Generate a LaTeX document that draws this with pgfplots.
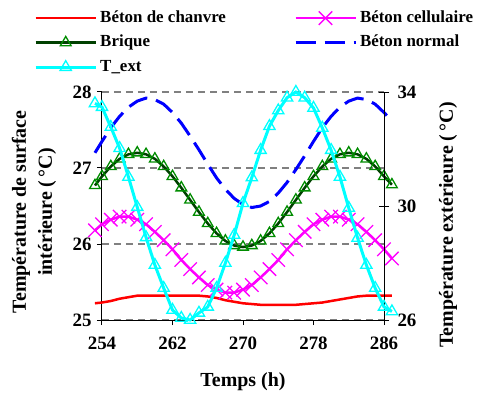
\documentclass[border=0pt]{standalone}
\usepackage{fontspec}
\setmainfont{Liberation Serif}
\usepackage{pgfplots}
\pgfplotsset{compat=1.18}
\definecolor{dkgreen}{RGB}{0,64,0}
\definecolor{mkgreen}{RGB}{0,140,0}
\definecolor{mycyan}{RGB}{0,255,255}
\definecolor{mymag}{RGB}{255,0,255}
\begin{document}
\begin{tikzpicture}
\useasboundingbox (-102bp,-76bp) rectangle (379bp,320bp);
\pgfplotsset{every axis/.append style={
  scale only axis, width=282bp, height=228bp,
  xmin=254, xmax=286, clip=false,
  at={(0,0)}, anchor=south west,
  /pgf/number format/assume math mode=true,
  ticklabel style={font=\fontsize{19}{19}\selectfont\bfseries},
  axis line style={line width=1bp,-},
  tick style={black,line width=1bp},
  label style={font=\fontsize{20}{26}\selectfont\bfseries},
}}
\begin{axis}[
  axis x line*=bottom, axis y line*=left,
  xtick={254,262,270,278,286},
  xticklabel style={yshift=-8bp},
  yticklabel style={xshift=-2bp},
  ymin=25, ymax=28, ytick={25,26,27,28},
  ymajorgrids, grid style={gray,line width=1.2bp,dash pattern=on 7bp off 5bp},
  tick align=outside, major tick length=5bp,
  xlabel={Temps (h)},
  xlabel style={at={(axis description cs:0.5,-0.272)},anchor=center},
  ylabel={Température de surface\\intérieure (\,°C)},
  ylabel style={at={(axis description cs:-0.241,0.474)},anchor=center,align=center},
  legend columns=2,
  legend cell align=left,
  legend style={at={(axis description cs:-0.241,1.36)},anchor=north west,
    draw=none,fill=none,inner sep=0pt,
    font=\fontsize{17}{17}\selectfont\bfseries,
    row sep=8.5bp,
    nodes={inner sep=0pt,text height=12bp,text depth=4bp},
    /tikz/every even column/.append style={column sep=68bp},
    /tikz/every odd column/.append style={column sep=3bp}},
  legend image code/.code={\draw[mark repeat=2,mark phase=2,#1] plot coordinates {(0bp,0bp)(30bp,0bp)(60bp,0bp)};},
]
% Beton de chanvre
\addplot[red,line width=2.5bp,no marks] coordinates {
(253.2,25.22)(254,25.23)(255,25.25)(256,25.28)(257,25.30)(258,25.32)(259,25.32)(260,25.32)
(261,25.32)(262,25.32)(263,25.32)(264,25.32)(265,25.32)(266,25.31)(267,25.29)(268,25.26)
(269,25.24)(270,25.22)(271,25.21)(272,25.20)(273,25.20)(274,25.20)(275,25.20)(276,25.20)
(277,25.21)(278,25.22)(279,25.23)(280,25.25)(281,25.27)(282,25.29)(283,25.31)(284,25.32)
(285,25.32)(286,25.32)(286.9,25.32)};
\addlegendentry{Béton de chanvre}
% Beton cellulaire
\addplot[mymag,line width=2.5bp,mark=x,mark size=9.5bp,mark options={line width=1.3bp,solid}] coordinates {
(253.2,26.18)(254,26.26)(255,26.32)(256,26.36)(257,26.36)(258,26.32)(259,26.26)(260,26.16)
(261,26.05)(262,25.93)(263,25.79)(264,25.67)(265,25.56)(266,25.46)(267,25.40)(268,25.36)
(269,25.36)(270,25.40)(271,25.46)(272,25.56)(273,25.67)(274,25.79)(275,25.93)(276,26.05)
(277,26.16)(278,26.26)(279,26.32)(280,26.36)(281,26.36)(282,26.32)(283,26.26)(284,26.16)
(285,26.05)(286,25.93)(286.9,25.81)};
\addlegendentry{Béton cellulaire}
% Brique
\addplot[dkgreen,line width=2.5bp,mark=triangle,mark size=6.2bp,mark options={draw=mkgreen,fill=none,line width=1.3bp,solid}] coordinates {
(253.2,26.77)(254,26.89)(255,27.02)(256,27.12)(257,27.18)(258,27.20)(259,27.18)(260,27.12)
(261,27.02)(262,26.89)(263,26.74)(264,26.58)(265,26.42)(266,26.27)(267,26.14)(268,26.04)
(269,25.98)(270,25.96)(271,25.98)(272,26.04)(273,26.14)(274,26.27)(275,26.42)(276,26.58)
(277,26.74)(278,26.89)(279,27.02)(280,27.12)(281,27.18)(282,27.20)(283,27.18)(284,27.12)
(285,27.02)(286,26.89)(286.9,26.78)};
\addlegendentry{Brique}
% Beton normal
\addplot[blue,line width=3bp,no marks,dash pattern=on 20bp off 9bp] coordinates {
(253.2,27.20)(254,27.35)(255,27.53)(256,27.68)(257,27.80)(258,27.88)(259,27.92)(260,27.90)
(261,27.84)(262,27.73)(263,27.59)(264,27.42)(265,27.24)(266,27.05)(267,26.87)(268,26.72)
(269,26.60)(270,26.52)(271,26.48)(272,26.50)(273,26.56)(274,26.67)(275,26.81)(276,26.98)
(277,27.16)(278,27.35)(279,27.53)(280,27.68)(281,27.80)(282,27.88)(283,27.92)(284,27.90)
(285,27.84)(286,27.73)(286.9,27.62)};
\addlegendentry{Béton normal}
\addlegendimage{mycyan,line width=3bp,mark=triangle,mark size=6.5bp,mark options={fill=white,line width=1.3bp,solid}}
\addlegendentry{T\_ext}
\end{axis}
\begin{axis}[
  axis x line=none, axis y line*=right,
  ymin=26, ymax=34, ytick={26,30,34},
  yticklabel style={xshift=5bp},
  tick align=center, major tick length=10bp,
  ylabel={Température extérieure (\,°C)},
  ylabel style={at={(axis description cs:1.227,0.417)},anchor=center},
]
\addplot[mycyan,line width=3bp,mark=triangle,mark size=6.5bp,mark options={fill=white,line width=1.3bp,solid}] coordinates {
(253.2,33.6)(254,33.47)(255,32.77)(256,32.03)(257,31.02)(258,29.96)(259,28.9)(260,27.93)
(261,27.12)(262,26.35)(263,26.07)(264,26.0)(265,26.25)(266,26.46)(267,27.12)(268,28.0)
(269,28.98)(270,30.1)(271,31.0)(272,31.96)(273,32.8)(274,33.35)(275,33.8)(276,34.0)
(277,33.8)(278,33.44)(279,32.74)(280,31.96)(281,31.02)(282,29.93)(283,28.88)(284,27.93)
(285,27.12)(286,26.46)(286.9,26.3)};
\end{axis}
\end{tikzpicture}
\end{document}
